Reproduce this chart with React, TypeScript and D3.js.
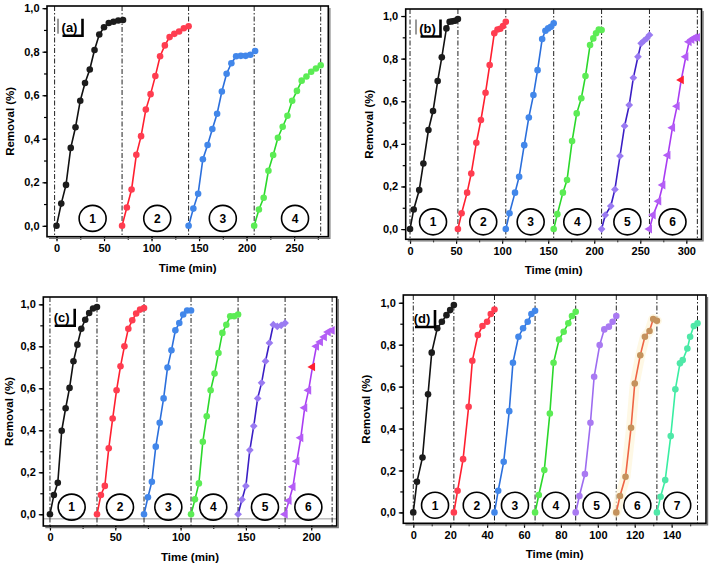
import React, { useEffect, useRef } from 'react';
import * as d3 from 'd3';

const W = 709;
const H = 566;

// ---------- (a) four cycles, sampled every 5 min
const timesA = [0, 5, 10, 15, 20, 25, 30, 35, 40, 45, 50, 55, 60, 65, 70];
const startsA = [0, 69, 139, 208];
const linesA = [-2, 69, 139, 208, 278];
const badgesA = [38, 106, 175, 251];
const runsA = [
  [0, 0.102, 0.188, 0.358, 0.453, 0.575, 0.656, 0.718, 0.808, 0.879, 0.912, 0.932, 0.938, 0.943, 0.946],
  [0, 0.084, 0.167, 0.326, 0.412, 0.534, 0.605, 0.688, 0.779, 0.829, 0.867, 0.882, 0.893, 0.908, 0.917],
  [0, 0.079, 0.147, 0.306, 0.371, 0.445, 0.515, 0.617, 0.699, 0.747, 0.779, 0.781, 0.781, 0.786, 0.803],
  [0, 0.075, 0.129, 0.253, 0.325, 0.405, 0.455, 0.506, 0.575, 0.62, 0.667, 0.686, 0.708, 0.723, 0.738],
];

// ---------- (b) six cycles of 52 min
const timesB = [0, 4, 10, 14.5, 20, 25, 30, 34.5, 39.5, 43, 46, 49, 52];
const startsB = [0, 52, 104, 156, 208, 260];
const linesB = [0, 52, 104, 156, 208, 260, 312];
const badgesB = [25, 79.5, 131, 181.6, 236, 285];
const runsB = [
  [0, 0.092, 0.183, 0.308, 0.465, 0.554, 0.695, 0.806, 0.942, 0.973, 0.975, 0.978, 0.986],
  [0, 0.074, 0.171, 0.261, 0.405, 0.512, 0.64, 0.77, 0.919, 0.937, 0.94, 0.953, 0.973],
  [0, 0.074, 0.171, 0.246, 0.394, 0.524, 0.629, 0.746, 0.892, 0.931, 0.942, 0.95, 0.966],
  [0, 0.07, 0.171, 0.23, 0.413, 0.543, 0.614, 0.718, 0.864, 0.895, 0.919, 0.937, 0.934],
  [0, 0.066, 0.108, 0.186, 0.343, 0.484, 0.582, 0.71, 0.809, 0.872, 0.884, 0.895, 0.911],
  [0, 0.066, 0.131, 0.207, 0.347, 0.476, 0.577, 0.7, 0.809, 0.879, 0.89, 0.898, 0.9],
];

// ---------- (c) six cycles of 36 min
const timesC = [0, 3, 6, 9, 12, 15, 18, 21, 24, 27, 30, 33, 36];
const startsC = [0, 36, 72, 108, 144, 180];
const linesC = [0, 36, 72, 108, 144, 180, 216];
const badgesC = [16.6, 53.6, 90.6, 125, 164.6, 197.8];
const runsC = [
  [0, 0.092, 0.15, 0.398, 0.505, 0.602, 0.729, 0.808, 0.884, 0.927, 0.959, 0.98, 0.987],
  [0, 0.092, 0.135, 0.314, 0.456, 0.591, 0.705, 0.8, 0.884, 0.924, 0.956, 0.975, 0.982],
  [0, 0.081, 0.155, 0.322, 0.436, 0.552, 0.699, 0.781, 0.876, 0.911, 0.952, 0.971, 0.971],
  [0, 0.071, 0.147, 0.345, 0.467, 0.591, 0.67, 0.768, 0.864, 0.903, 0.943, 0.943, 0.952],
  [0, 0.07, 0.135, 0.306, 0.42, 0.552, 0.626, 0.729, 0.816, 0.903, 0.895, 0.9, 0.911],
  [0, 0.065, 0.131, 0.253, 0.364, 0.507, 0.591, 0.702, 0.8, 0.821, 0.845, 0.868, 0.876],
];

// ---------- (d) seven cycles of 22 min
const timesD = [0, 2, 5, 8, 10, 13, 15.5, 18, 20, 22];
const timesD7 = [0, 2, 4.5, 7.5, 10, 12.5, 14, 16.5, 18, 20, 22];
const startsD = [0, 22, 44, 66, 88, 110, 132];
const linesD = [0, 22, 44, 66, 88, 110, 132, 154];
const badgesD = [11.8, 34.4, 55.1, 77.2, 99.3, 121.4, 143];
const runsD = [
  [0, 0.146, 0.262, 0.563, 0.762, 0.878, 0.909, 0.941, 0.965, 0.989],
  [0, 0.103, 0.254, 0.504, 0.723, 0.846, 0.889, 0.909, 0.946, 0.968],
  [0, 0.103, 0.241, 0.483, 0.714, 0.838, 0.878, 0.909, 0.946, 0.962],
  [0, 0.083, 0.202, 0.472, 0.714, 0.825, 0.862, 0.902, 0.937, 0.957],
  [0, 0.078, 0.183, 0.428, 0.647, 0.798, 0.873, 0.886, 0.909, 0.937],
  [0, 0.078, 0.17, 0.404, 0.615, 0.75, 0.838, 0.865, 0.922, 0.914],
  [0, 0.075, 0.154, 0.364, 0.587, 0.711, 0.727, 0.782, 0.838, 0.889, 0.902],
];

const yTickValues = [0, 0.2, 0.4, 0.6, 0.8, 1.0];

type RunStyle = { line: string; fill: string; shape: string; glow?: string; odd?: number };

const black: RunStyle = { line: '#111111', fill: '#1c1c1c', shape: 'circle' };
const red: RunStyle = { line: '#ff1f2f', fill: '#ff3d50', shape: 'circle' };
const blue: RunStyle = { line: '#2b6fdc', fill: '#4287ea', shape: 'circle' };
const green: RunStyle = { line: '#2bd82b', fill: '#5cec55', shape: 'circle' };
const indigo: RunStyle = { line: '#3a1ec4', fill: '#9a7bf2', shape: 'diamond' };
const violet: RunStyle = { line: '#a93cf2', fill: '#b45ef6', shape: 'triangle', odd: 7 };
const lavender: RunStyle = { line: '#9d6cf0', fill: '#a97af2', shape: 'circle' };
const coral: RunStyle = { line: '#ee6444', fill: '#c4925c', shape: 'circle', glow: '#fdf5da' };
const mint: RunStyle = { line: '#39eea2', fill: '#4fe8a8', shape: 'circle' };

const panels = [
  {
    label: '(a)', box: [47, 6, 328.3, 236.7], xDomain: [-10, 286], yDomain: [-0.05, 1.01],
    xTicks: [0, 50, 100, 150, 200, 250], xMinor: 25,
    times: runsA.map(() => timesA), starts: startsA, lines: linesA, runs: runsA, badges: badgesA,
    styles: [black, red, blue, green], tag: [69.5, 31.7], thin: true, floor: false,
  },
  {
    label: '(b)', box: [405.7, 9, 701.5, 239.3], xDomain: [-4.7, 316.5], yDomain: [-0.048, 1.033],
    xTicks: [0, 50, 100, 150, 200, 250, 300], xMinor: 25,
    times: runsB.map(() => timesB), starts: startsB, lines: linesB, runs: runsB, badges: badgesB,
    styles: [black, red, blue, green, indigo, violet], tag: [427.5, 32.5], thin: true, floor: false,
  },
  {
    label: '(c)', box: [43.3, 297, 336.7, 526], xDomain: [-5.1, 219.5], yDomain: [-0.056, 1.035],
    xTicks: [0, 50, 100, 150, 200], xMinor: 25,
    times: runsC.map(() => timesC), starts: startsC, lines: linesC, runs: runsC, badges: badgesC,
    styles: [black, red, blue, green, indigo, violet], tag: [61.7, 321.7], thin: false, floor: true,
  },
  {
    label: '(d)', box: [403.3, 295, 706, 523.3], xDomain: [-5.4, 158.6], yDomain: [-0.052, 1.037],
    xTicks: [0, 20, 40, 60, 80, 100, 120, 140], xMinor: 10,
    times: runsD.map((r, i) => (i === 6 ? timesD7 : timesD)), starts: startsD, lines: linesD, runs: runsD,
    badges: badgesD, styles: [black, red, blue, green, lavender, coral, mint], tag: [422, 323], thin: false, floor: false,
  },
];

const FONT = "'Liberation Sans', Arial, sans-serif";

function symbolFor(shape: string) {
  if (shape === 'diamond') return d3.symbol().type(d3.symbolDiamond2).size(38)();
  if (shape === 'triangle') return d3.symbol().type(d3.symbolTriangle).size(34)();
  return d3.symbol().type(d3.symbolCircle).size(34)();
}

function drawPanel(svg: any, p: any) {
  const [x0, y0, x1, y1] = p.box;
  const x = d3.scaleLinear().domain(p.xDomain).range([x0, x1]);
  const y = d3.scaleLinear().domain(p.yDomain).range([y1, y0]);
  const g = svg.append('g');

  if (p.floor) {
    g.append('line')
      .attr('x1', x0).attr('x2', x1).attr('y1', y(-0.022)).attr('y2', y(-0.022))
      .attr('stroke', '#9a9a9a').attr('stroke-width', 1);
  }

  // cycle separators
  g.selectAll('line.sep').data(p.lines).join('line')
    .attr('class', 'sep')
    .attr('x1', (d: number) => x(d)).attr('x2', (d: number) => x(d))
    .attr('y1', y0).attr('y2', y1)
    .attr('stroke', '#222').attr('stroke-width', 1)
    .attr('stroke-dasharray', '5,2,1.5,2');

  // numbered cycle badges
  const badge = g.selectAll('g.badge').data(p.badges).join('g')
    .attr('class', 'badge')
    .attr('transform', (d: number) => `translate(${x(d)},${y(0.034)})`);
  badge.append('ellipse').attr('rx', 13.5).attr('ry', 13)
    .attr('fill', 'none').attr('stroke', '#000').attr('stroke-width', 1.6);
  badge.append('text').text((d: number, i: number) => String(i + 1))
    .attr('text-anchor', 'middle').attr('dy', '0.36em')
    .attr('font-size', 12).attr('font-weight', 'bold').attr('font-family', FONT);

  // runs
  const line = d3.line<number[]>().x(d => x(d[0])).y(d => y(d[1]));
  p.runs.forEach((vals: number[], i: number) => {
    const st: RunStyle = p.styles[i];
    const pts = vals.map((v, j) => [p.starts[i] + p.times[i][j], v]);
    if (st.glow) {
      g.append('path').attr('d', line(pts)).attr('fill', 'none')
        .attr('stroke', st.glow).attr('stroke-width', 10).attr('stroke-linecap', 'round')
        .attr('stroke-linejoin', 'round').attr('opacity', 0.7);
    }
    g.append('path').attr('d', line(pts)).attr('fill', 'none')
      .attr('stroke', st.line).attr('stroke-width', 1.6);
    const sym = symbolFor(st.shape);
    g.selectAll(null).data(pts).join('path')
      .attr('d', sym)
      .attr('transform', (d: number[]) =>
        `translate(${x(d[0])},${y(d[1])})${st.shape === 'triangle' ? ' rotate(-90)' : ''}`)
      .attr('fill', (d: number[], j: number) => (st.odd === j ? '#ff2030' : st.fill));
  });

  // axes
  const fmt = (d: number) => d3.format('.1f')(d).replace('.', ',');
  const yMinor = d3.range(0, 1.01, 0.1);
  const ax = g.append('g').attr('transform', `translate(${x0},0)`)
    .call(d3.axisLeft(y).tickValues(yMinor).tickSize(3).tickFormat(() => ''));
  ax.select('.domain').remove();
  const ay = g.append('g').attr('transform', `translate(${x0},0)`)
    .call(d3.axisLeft(y).tickValues(yTickValues).tickSize(4.5).tickPadding(3).tickFormat(fmt as any));
  ay.select('.domain').remove();

  const xm = d3.range(Math.ceil(p.xDomain[0] / p.xMinor) * p.xMinor, p.xDomain[1], p.xMinor).filter((v: number) => v >= 0);
  const bx = g.append('g').attr('transform', `translate(0,${y1})`)
    .call(d3.axisBottom(x).tickValues(xm).tickSize(3).tickFormat(() => ''));
  bx.select('.domain').remove();
  const by = g.append('g').attr('transform', `translate(0,${y1})`)
    .call(d3.axisBottom(x).tickValues(p.xTicks).tickSize(4.5).tickPadding(3).tickFormat(d3.format('d') as any));
  by.select('.domain').remove();

  g.selectAll('.tick line').attr('stroke', '#000').attr('stroke-width', 1.2);
  g.selectAll('.tick text').attr('font-size', 11).attr('font-weight', 'bold')
    .attr('font-family', FONT).attr('fill', '#000');

  // frame with a light shadow on the right and bottom
  g.append('path')
    .attr('d', `M${x1 + 1.6},${y0 + 2}V${y1 + 1.6}H${x0 + 2}`)
    .attr('fill', 'none').attr('stroke', '#777').attr('stroke-width', 1.2);
  g.append('rect')
    .attr('x', x0).attr('y', y0).attr('width', x1 - x0).attr('height', y1 - y0)
    .attr('fill', 'none').attr('stroke', '#000').attr('stroke-width', 1.6);

  // titles
  g.append('text').text('Time (min)')
    .attr('x', (x0 + x1) / 2).attr('y', y1 + 35)
    .attr('text-anchor', 'middle').attr('font-size', 11.5).attr('font-weight', 'bold').attr('font-family', FONT);
  g.append('text').text('Removal (%)')
    .attr('transform', `translate(${Math.max(x0 - 37, 9)},${(y0 + y1) / 2}) rotate(-90)`)
    .attr('text-anchor', 'middle').attr('dy', '0.35em')
    .attr('font-size', 11.5).attr('font-weight', 'bold').attr('font-family', FONT);

  // panel tag
  const [cx, base] = p.tag;
  g.append('text').text(p.label)
    .attr('x', cx).attr('y', base).attr('text-anchor', 'middle')
    .attr('font-size', 13).attr('font-weight', 'bold').attr('font-family', FONT);
  if (p.thin) {
    g.append('line').attr('x1', cx - 11.5).attr('x2', cx - 11.5).attr('y1', base - 13).attr('y2', base + 2)
      .attr('stroke', '#000').attr('stroke-width', 0.8);
  }
  g.append('path')
    .attr('d', `M${cx + 13},${base - 13}V${base + 4}H${cx - 7}`)
    .attr('fill', 'none').attr('stroke', '#000').attr('stroke-width', 2.6);
}

export default function App() {
  const svgRef = useRef<SVGSVGElement>(null);

  useEffect(() => {
    const svg = d3.select(svgRef.current);
    svg.selectAll('*').remove();
    svg.append('rect').attr('width', W).attr('height', H).attr('fill', '#fff');
    panels.forEach(p => drawPanel(svg, p));
    return () => {
      svg.selectAll('*').remove();
    };
  }, []);

  return (
    <svg
      ref={svgRef}
      width={W}
      height={H}
      style={{ position: 'absolute', left: 0, top: 0, display: 'block' }}
    />
  );
}
